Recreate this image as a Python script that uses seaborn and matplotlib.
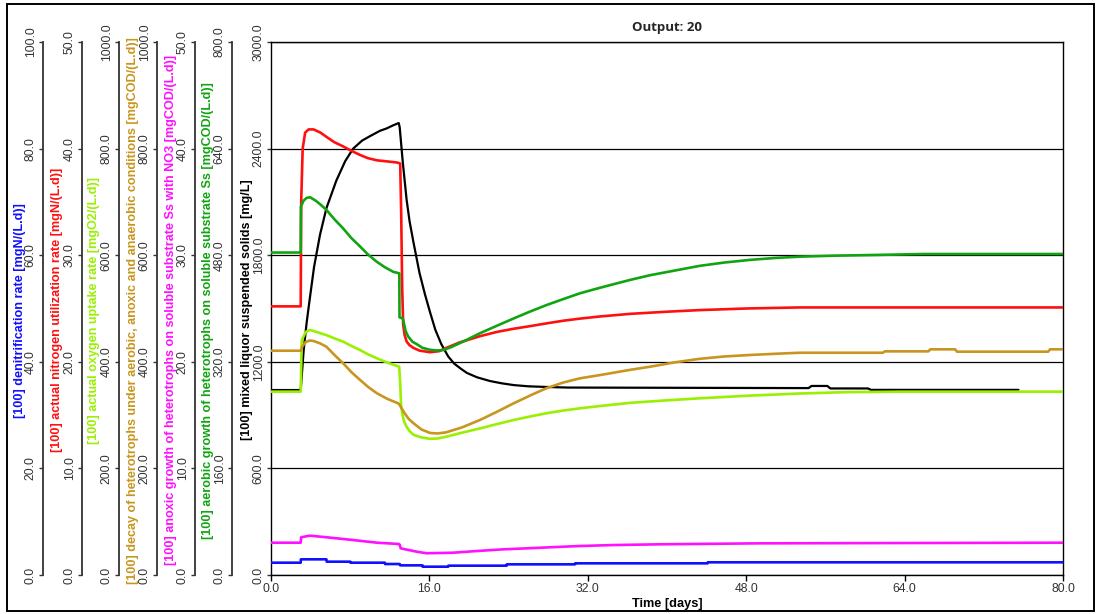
import numpy as np
import pandas as pd
import matplotlib
matplotlib.use("Agg")
import matplotlib.pyplot as plt
import seaborn as sns
from matplotlib.patches import Rectangle
from matplotlib.ticker import FormatStrFormatter, MultipleLocator

sns.set_theme(style="white")
plt.rcParams['font.family'] = ['Liberation Sans', 'DejaVu Sans']

# ---------------- data ----------------
x_ticks = [0, 16, 32, 48, 64, 80]

t_blue = [0, 3.0, 3.02, 5.6, 5.62, 8.0, 8.02, 11.5, 11.52, 13.0, 13.05, 15.3, 15.32, 17.9, 17.92,
          23.8, 23.82, 30.7, 30.72, 44.1, 44.12, 80]
v_blue = [2.31, 2.31, 2.94, 2.94, 2.5, 2.5, 2.31, 2.31, 2.06, 2.06, 1.81, 1.81, 1.56, 1.56, 1.75,
          1.75, 2.0, 2.0, 2.19, 2.19, 2.38, 2.38]

t_red = [0, 3.0, 3.05, 3.2, 3.45, 3.8, 4.3, 5.0, 5.6, 6.4, 7.3, 8.1, 9.0, 9.8, 10.7, 11.7, 12.7,
         13.05, 13.15, 13.25, 13.35, 13.5, 13.7, 14.0, 14.4, 15.0, 16.06, 17.0, 17.7, 19.0, 21.1,
         22.8, 24.5, 26.2, 27.8, 29.5, 31.2, 33.2, 36.3, 40.0, 43.3, 48.0, 53.4, 80]
v_red = [25.2, 25.2, 35.0, 40.0, 41.5, 41.8, 41.8, 41.5, 41.1, 40.6, 40.2, 39.8, 39.4, 39.1, 38.9,
         38.8, 38.7, 38.6, 34.0, 27.0, 23.5, 22.5, 21.9, 21.55, 21.3, 21.05, 20.9, 21.0, 21.3,
         21.8, 22.4, 22.8, 23.1, 23.35, 23.6, 23.85, 24.05, 24.25, 24.5, 24.7, 24.85, 25.0,
         25.1, 25.1]

t_lime = [0, 3.0, 3.1, 3.5, 3.94, 4.6, 5.6, 6.4, 7.3, 8.1, 9.0, 9.8, 10.7, 11.8, 12.95, 13.05,
          13.15, 13.4, 13.7, 14.0, 14.4, 15.2, 16.06, 16.8, 17.7, 19.3, 21.1, 22.8, 24.5, 26.2,
          27.8, 29.5, 31.2, 33.2, 36.3, 39.8, 43.3, 48.3, 53.4, 58.0, 63.5, 80]
v_lime = [344, 344, 440, 456, 459.7, 456, 450, 444, 437.7, 430, 422, 414, 406.6, 398, 390.8,
          360, 315, 290, 278, 270, 263, 258, 255.5, 256, 259.5, 267, 275, 283, 290.8, 297.5,
          303.4, 308.5, 312.7, 317, 323, 327.5, 331.5, 336.5, 340.5, 343, 344, 344]

t_gold = [0, 3.0, 3.2, 3.5, 3.9, 4.3, 4.9, 5.6, 6.4, 7.3, 8.1, 9.0, 9.8, 10.7, 11.8, 12.86,
          13.0, 13.5, 13.9, 14.4, 15.2, 16.06, 16.8, 17.7, 19.3, 21.1, 22.8, 24.5, 26.2, 27.8,
          29.5, 31.2, 33.2, 36.3, 38.3, 40.8, 43.3, 45.8, 48.4, 50.9, 53.4, 61.8, 62.0, 66.4,
          66.6, 69.1, 69.3, 78.5, 78.7, 80]
v_gold = [420.8, 420.8, 430, 437, 440, 439, 435, 428.3, 413, 397, 381, 365.9, 353, 340.9, 330,
          322, 319, 303.4, 293, 284.6, 273, 266.5, 265.5, 267.7, 277, 290.8, 306, 322, 337,
          350.3, 361, 369, 375, 385, 390.8, 399, 405.6, 410, 412.8, 415, 417, 417, 419.6,
          419.6, 423.4, 423.4, 419, 419, 423.4, 423.4]

t_mag = [0, 3.0, 3.05, 3.9, 5.6, 8.3, 10.7, 12.9, 13.0, 13.1, 14.7, 15.7, 18.4, 20.8, 23.5,
         25.8, 28.2, 31.2, 34.6, 39.3, 49.4, 80]
v_mag = [3.03, 3.03, 3.54, 3.69, 3.54, 3.28, 3.03, 2.91, 2.85, 2.5, 2.19, 2.04, 2.09, 2.25, 2.41,
         2.5, 2.6, 2.72, 2.81, 2.88, 2.97, 3.03]

t_grn = [0, 3.0, 3.02, 3.3, 3.6, 3.94, 4.5, 5.0, 5.6, 6.4, 7.3, 8.1, 9.0, 9.8, 10.7, 11.5,
         12.35, 12.96, 12.98, 13.3, 13.36, 13.6, 13.87, 14.3, 14.7, 15.3, 16.06, 16.8, 17.4,
         18.2, 19.5, 21.1, 22.8, 24.5, 26.1, 27.8, 29.5, 31.2, 33.2, 35.0, 36.3, 38.3, 40.8,
         43.3, 45.8, 48.4, 50.9, 53.4, 57.0, 60.8, 65.9, 80]
v_grn = [484, 484, 553, 562, 566, 567, 562, 556, 548, 534, 520, 506, 493, 481, 470, 462, 455,
         452.8, 386.8, 385, 382.6, 366, 357.6, 350, 346.7, 341, 338, 337, 337.7, 342, 351,
         362.8, 374, 385, 395, 405, 414, 422.8, 431, 438, 443, 450, 457, 464, 469, 473, 475.8,
         477.8, 479.3, 480.3, 481.8, 481.8]

t_blk = [0, 3.0, 3.3, 3.6, 3.9, 4.35, 4.95, 5.6, 6.6, 7.5, 8.3, 9.2, 10.0, 11.0, 11.7, 12.3,
         12.9, 13.0, 13.3, 13.7, 14.0, 14.4, 15.0, 15.55, 16.06, 16.6, 17.2, 17.9, 18.5, 19.2,
         19.8, 20.8, 22.1, 23.3, 24.5, 26.0, 28.0, 30.0, 54.3, 54.6, 56.2, 56.5, 60.3, 60.6,
         75.5]
v_blk = [1041, 1041, 1266, 1420, 1548, 1734, 1915, 2065, 2220, 2330, 2400, 2445, 2470, 2500,
         2514, 2530, 2544, 2520, 2330, 2111, 1990, 1870, 1700, 1580, 1480, 1380, 1300, 1230,
         1190, 1160, 1137, 1113, 1092, 1079, 1069, 1062, 1058, 1055, 1052, 1064, 1064, 1050,
         1050, 1042, 1042]

labels = [
    "[100] denitrification rate [mgN/(L.d)]",
    "[100] actual nitrogen utilization rate [mgN/(L.d)]",
    "[100] actual oxygen uptake rate [mgO2/(L.d)]",
    "[100] decay of heterotrophs under aerobic, anoxic and anaerobic conditions [mgCOD/(L.d)]",
    "[100] anoxic growth of heterotrophs on soluble substrate Ss with NO3 [mgCOD/(L.d)]",
    "[100] aerobic growth of heterotrophs on soluble substrate Ss [mgCOD/(L.d)]",
    "[100] mixed liquor suspended solids [mg/L]",
]
y_max = [100, 50, 1000, 1000, 50, 800, 3000]
y_step = [20, 10, 200, 200, 10, 160, 600]
colors = ["#1010ff", "#ff1010", "#99f000", "#c8961e", "#ff10ff", "#10a510", "#000000"]
series_t = [t_blue, t_red, t_lime, t_gold, t_mag, t_grn, t_blk]
series_v = [v_blue, v_red, v_lime, v_gold, v_mag, v_grn, v_blk]

# ---------------- layout ----------------
W, H = 1096, 614
fig = plt.figure(figsize=(W / 100, H / 100), dpi=100)
fig.patch.set_facecolor("white")

L, R, T, B = 271, 1063, 42, 575
ax = fig.add_axes([L / W, (H - B) / H, (R - L) / W, (B - T) / H])
ax.set_facecolor("white")

spine_px = [43, 82, 119, 157, 195, 232, 271]
label_px = [20, 57, 94, 133, 171, 208, 247]

axes = []
for i in range(7):
    a = ax if i == 6 else ax.twinx()
    axes.append(a)

for i, a in enumerate(axes):
    df = pd.DataFrame({"t": series_t[i], "v": series_v[i]})
    sns.lineplot(data=df, x="t", y="v", ax=a, color=colors[i],
                 lw=1.6 if i == 6 else 1.9, estimator=None, sort=False)
    a.set_ylim(0, y_max[i])
    a.yaxis.set_major_locator(MultipleLocator(y_step[i]))
    a.yaxis.set_major_formatter(FormatStrFormatter("%.1f"))
    if i != 6:
        a.patch.set_visible(False)
        for s in ["top", "right", "bottom"]:
            a.spines[s].set_visible(False)
        a.spines["left"].set_visible(True)
        a.spines["left"].set_position(("axes", (spine_px[i] - L) / (R - L)))
        a.spines["left"].set_color("#333333")
        a.spines["left"].set_linewidth(1.3)
        a.yaxis.set_ticks_position("left")
        a.yaxis.set_label_position("left")
    a.tick_params(axis="y", which="major", left=True, right=False, length=3, width=1,
                  pad=1.5, labelrotation=90, labelsize=8.8, labelcolor="#333333",
                  color="#333333")
    for lab in a.get_yticklabels():
        lab.set_va("center")
    a.get_yticklabels()[0].set_va("bottom")
    a.set_ylabel(labels[i], color=colors[i] if i != 6 else "black", fontsize=9.1,
                 fontweight="bold")
    a.yaxis.set_label_coords((label_px[i] - L) / (R - L), 0.497)
    a.yaxis.label.set_va("center")
    a.set_xlabel("")

ax.set_xlim(0, 80)
ax.set_xticks(x_ticks)
ax.xaxis.set_major_formatter(FormatStrFormatter("%.1f"))
ax.tick_params(axis="x", bottom=True, length=4, width=1, pad=2, labelsize=8.8,
               labelcolor="#333333", color="black")
ax.set_xlabel("Time [days]", fontsize=9.2, fontweight="bold", color="black", labelpad=2)
ax.grid(False)
ax.yaxis.grid(True, color="black", lw=0.9)
for s in ax.spines.values():
    s.set_visible(True)
    s.set_color("black")
    s.set_linewidth(1.0)

ax.set_title("Output: 20", fontsize=9.5, fontweight="bold", pad=8,
             family=["Open Sans", "DejaVu Sans"])

fig.add_artist(Rectangle((7 / W, (H - 611) / H), (1094 - 7) / W, (611 - 4) / H,
                         transform=fig.transFigure, fill=False, edgecolor="black", lw=1.4))

fig.savefig("out.png", dpi=100)
